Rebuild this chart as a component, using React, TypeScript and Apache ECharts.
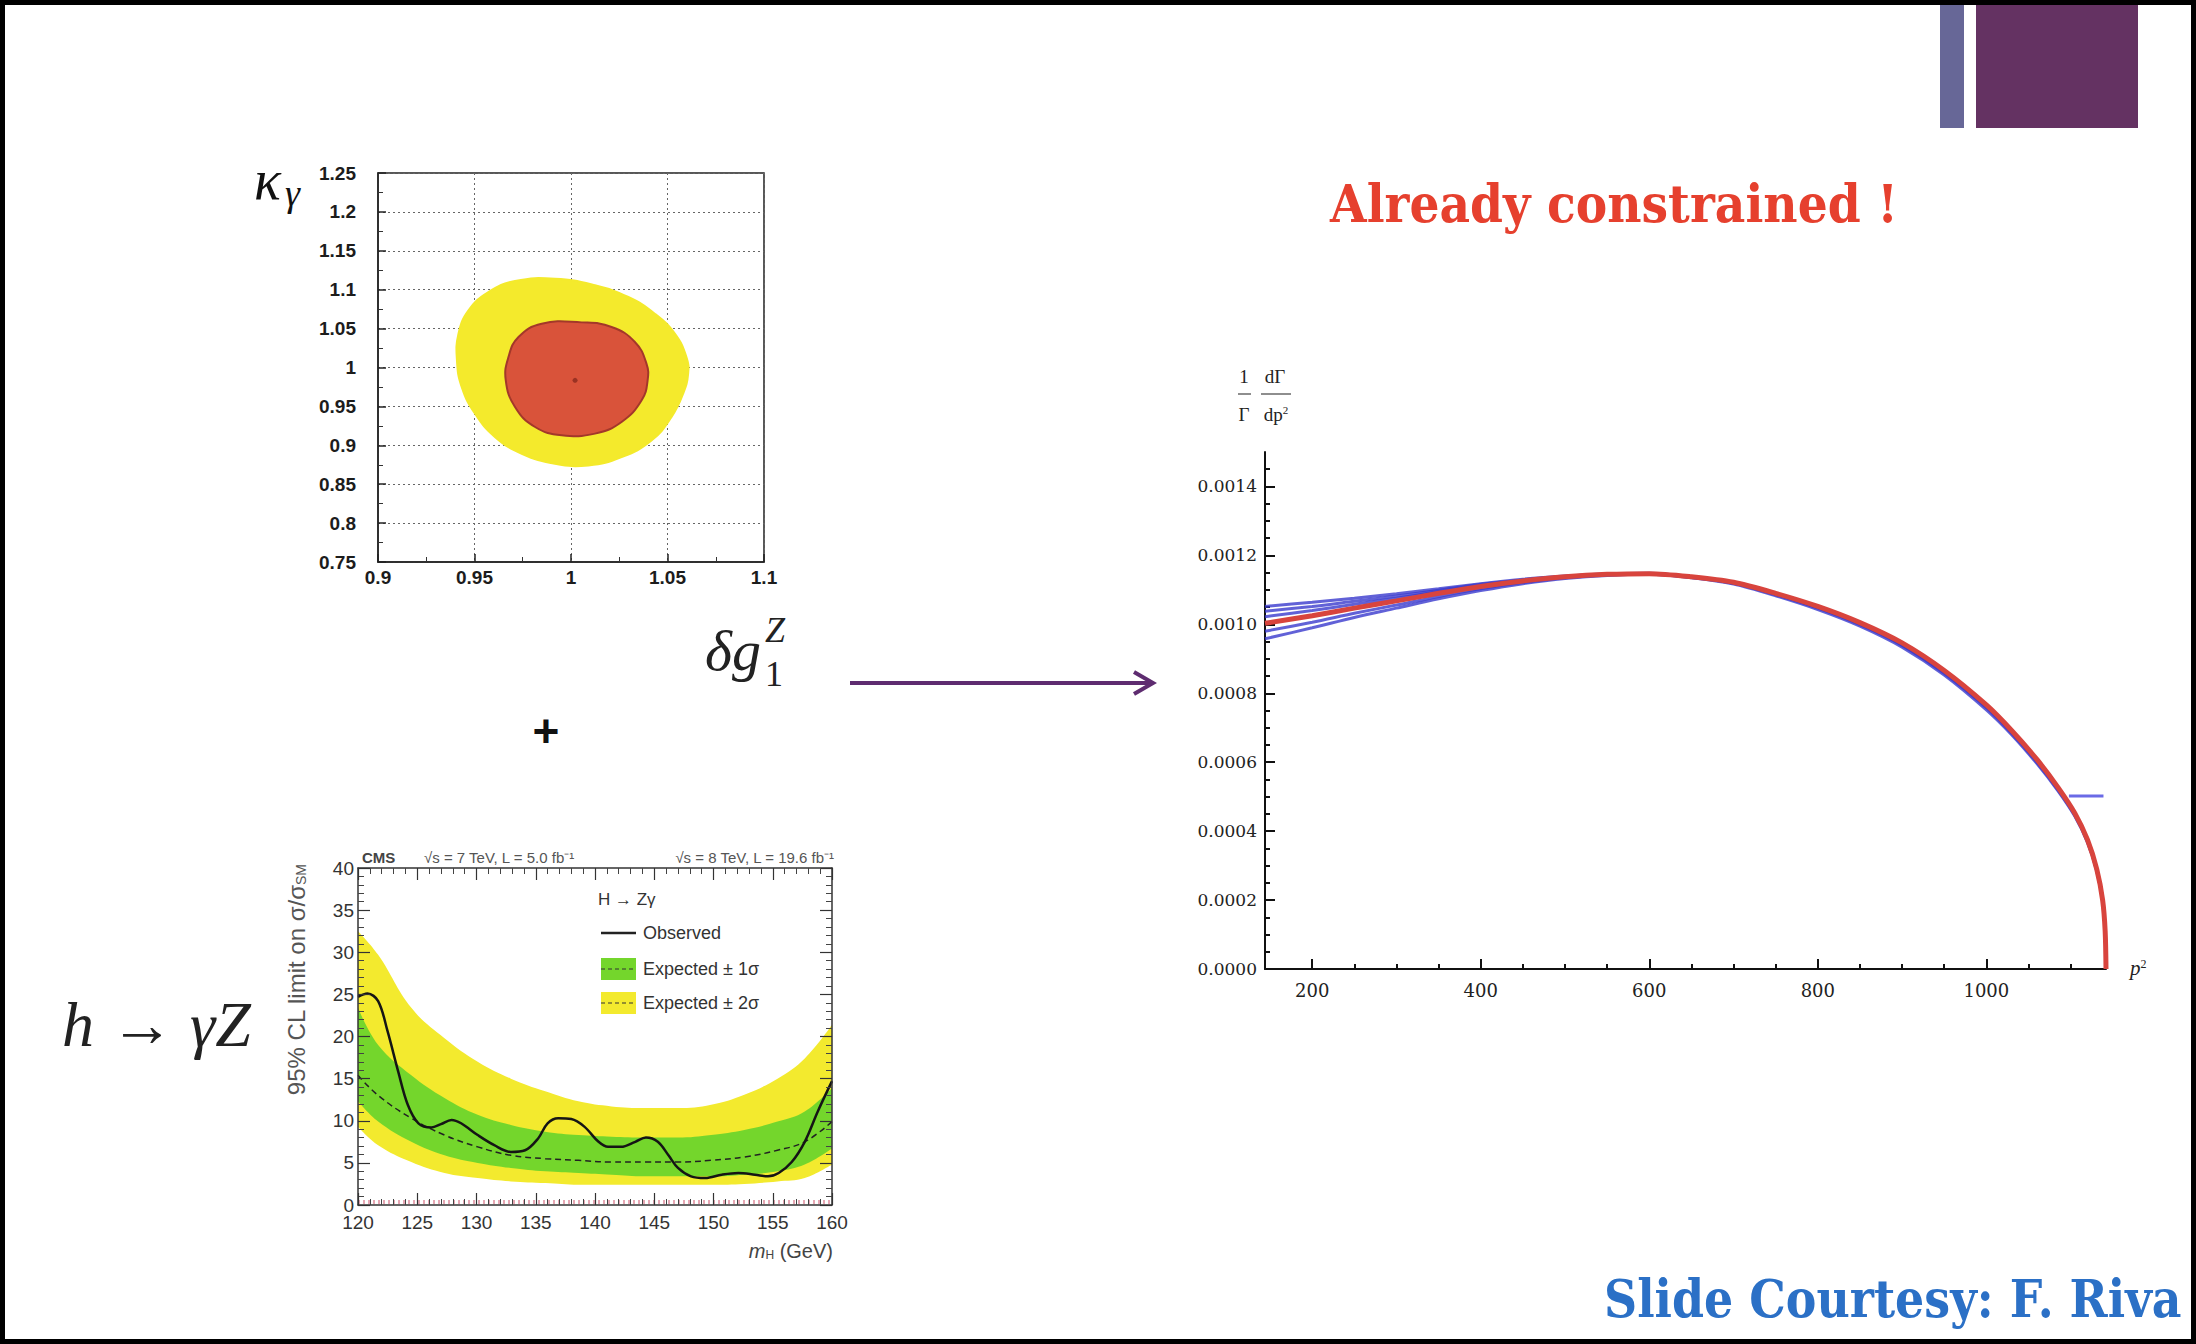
import React, { useEffect, useRef } from "react";
import * as echarts from "echarts";

const W = 2196;
const H = 1344;

// ---------- Panel A: delta g1Z vs kappa-gamma contours ----------
const sigma2X = [0.9917, 1.0124, 1.0297, 1.0434, 1.0538, 1.0598, 1.0607, 1.0581, 1.0521, 1.0417, 1.0262, 1.009, 0.9917, 0.9745, 0.9607, 0.9503, 0.9434, 0.9409, 0.9417, 0.9469, 0.9572, 0.971];
const sigma2Y = [1.1142, 1.1056, 1.0906, 1.0692, 1.0435, 1.0135, 0.9921, 0.9664, 0.9364, 0.9062, 0.8848, 0.8741, 0.8763, 0.8891, 0.9105, 0.9405, 0.9748, 1.0092, 1.0435, 1.0735, 1.097, 1.1112];
const sigma1X = [0.9848, 1.0055, 1.021, 1.0331, 1.0391, 1.0397, 1.0366, 1.0262, 1.0124, 0.9952, 0.9814, 0.971, 0.9662, 0.9676, 0.9728];
const sigma1Y = [1.0563, 1.058, 1.0521, 1.0328, 1.005, 0.9835, 0.9578, 0.93, 0.915, 0.9128, 0.9235, 0.9493, 0.9836, 1.0135, 1.0392];
const bestFit = [1.0021, 0.9835];

// ---------- Panel B: CMS h -> Z gamma limit ----------
const massGrid = [120, 121.7, 124.5, 127.3, 130.1, 132.9, 135.8, 138.6, 141.4, 144.2, 147, 149.8, 152.6, 155.4, 157.7, 160];
const band2Hi = [32.5, 29.7, 23.4, 19.8, 17.0, 15.0, 13.5, 12.3, 11.7, 11.5, 11.5, 11.9, 13.1, 15.0, 17.4, 21.4];
const band1Hi = [23.4, 19.0, 15.4, 12.7, 10.7, 9.5, 8.7, 8.3, 8.1, 8.0, 8.0, 8.3, 8.9, 9.9, 11.1, 13.9];
const band1Lo = [12.3, 9.9, 7.5, 5.9, 5.0, 4.4, 4.0, 3.8, 3.6, 3.4, 3.4, 3.4, 3.6, 4.0, 4.8, 6.7];
const band2Lo = [9.3, 7.1, 5.1, 3.8, 3.2, 2.8, 2.6, 2.4, 2.4, 2.4, 2.4, 2.4, 2.5, 2.8, 3.2, 4.8];
const expectedLimit = [15.4, 13.0, 10.3, 8.3, 6.9, 5.9, 5.5, 5.3, 5.1, 5.1, 5.1, 5.3, 5.7, 6.5, 7.5, 9.9];
const observedMass = [120, 120.8, 121.7, 122.5, 123.4, 124.2, 125.1, 126.2, 127.0, 127.9, 128.7, 130.1, 131.5, 132.9, 134.1, 135.2, 136.0, 136.9, 138.0, 139.1, 140.3, 141.1, 142.2, 143.4, 144.3, 145.3, 146.2, 147.0, 148.1, 149.3, 150.7, 152.1, 153.5, 154.6, 155.5, 156.6, 157.7, 158.8, 160];
const observedLimit = [24.7, 25.1, 24.2, 20.6, 15.8, 11.9, 9.7, 9.2, 9.6, 10.1, 9.7, 8.3, 7.1, 6.3, 6.5, 7.9, 9.7, 10.3, 10.2, 9.3, 7.5, 6.9, 6.9, 7.5, 8.0, 7.5, 5.9, 4.4, 3.4, 3.2, 3.6, 3.8, 3.6, 3.4, 3.8, 5.1, 7.5, 11.1, 14.7];

// ---------- Panel C: 1/Gamma dGamma/dp^2 ----------
const p2Values = [144, 200, 250, 300, 350, 400, 450, 500, 550, 600, 650, 700, 750, 800, 850, 900, 950, 1000, 1030, 1060, 1085, 1105, 1120, 1131, 1138, 1141, 1142];
const redCurve = [0.001003, 0.001025, 0.001047, 0.001068, 0.00109, 0.00111, 0.001126, 0.001138, 0.001145, 0.001147, 0.001138, 0.001122, 0.00109, 0.001052, 0.001005, 0.000946, 0.000866, 0.000766, 0.000692, 0.000608, 0.000527, 0.000452, 0.000375, 0.00029, 0.0002, 0.00011, 0];
const blueCurve1 = [0.000958, 0.00099, 0.00102, 0.001047, 0.001074, 0.001098, 0.001118, 0.001133, 0.001142, 0.001145, 0.001135, 0.001117, 0.001083, 0.001043, 0.000995, 0.000934, 0.000853, 0.000752, 0.00068, 0.000596, 0.000517, 0.000443, 0.000367, 0.000284, 0.000196, 0.000107, 0];
const blueCurve2 = [0.00098, 0.001006, 0.001032, 0.001056, 0.001081, 0.001103, 0.001121, 0.001135, 0.001143, 0.001146, 0.001136, 0.001119, 0.001086, 0.001047, 0.000999, 0.000939, 0.000858, 0.000758, 0.000684, 0.0006, 0.00052, 0.000446, 0.00037, 0.000286, 0.000197, 0.000108, 0];
const blueCurve3 = [0.001022, 0.00104, 0.001058, 0.001076, 0.001095, 0.001113, 0.001128, 0.001139, 0.001145, 0.001147, 0.001137, 0.00112, 0.001088, 0.001049, 0.001002, 0.000942, 0.000862, 0.000762, 0.000688, 0.000604, 0.000524, 0.000449, 0.000372, 0.000288, 0.000198, 0.000109, 0];
const blueCurve4 = [0.001038, 0.001052, 0.001067, 0.001082, 0.001099, 0.001116, 0.001129, 0.001139, 0.001145, 0.001147, 0.001137, 0.00112, 0.001088, 0.001049, 0.001002, 0.000942, 0.000862, 0.000762, 0.000688, 0.000604, 0.000524, 0.000449, 0.000372, 0.000288, 0.000198, 0.000109, 0];
const blueCurve5 = [0.001052, 0.001064, 0.001076, 0.001089, 0.001103, 0.001118, 0.001131, 0.00114, 0.001146, 0.001148, 0.001138, 0.001121, 0.001089, 0.00105, 0.001003, 0.000943, 0.000863, 0.000763, 0.00069, 0.000606, 0.000525, 0.00045, 0.000373, 0.000289, 0.000199, 0.000109, 0];
const blueCurves = [blueCurve1, blueCurve2, blueCurve3, blueCurve4, blueCurve5];
const blueMarkX = [1098, 1139];
const blueMarkY = [0.000502, 0.000502];
const rightXMajor = [200, 400, 600, 800, 1000];
const rightXMinor = [250, 300, 350, 450, 500, 550, 650, 700, 750, 850, 900, 950, 1050, 1100];
const rightYMajor = [0, 0.0002, 0.0004, 0.0006, 0.0008, 0.001, 0.0012, 0.0014];
const rightYMinor = [0.00005, 0.0001, 0.00015, 0.00025, 0.0003, 0.00035, 0.00045, 0.0005, 0.00055, 0.00065, 0.0007, 0.00075, 0.00085, 0.0009, 0.00095, 0.00105, 0.0011, 0.00115, 0.00125, 0.0013, 0.00135, 0.00145];

const SANS = '"Liberation Sans", Arial, sans-serif';
const SERIF = '"Liberation Serif", "Times New Roman", serif';
const DSERIF = '"DejaVu Serif", serif';
const YELLOW = "#f3ea2e";
const GREEN = "#74d62c";

function measure(text: string, font: string): number {
  const ctx = document.createElement("canvas").getContext("2d");
  if (!ctx) return 1;
  ctx.font = font;
  return ctx.measureText(text).width || 1;
}

function fittedText(text: string, x: number, y: number, size: number, target: number, color: string) {
  const w = measure(text, `bold ${size}px "DejaVu Serif"`);
  return {
    type: "text",
    x,
    y,
    scaleX: target / w,
    silent: true,
    style: { text, fontFamily: DSERIF, fontWeight: "bold", fontSize: size, fill: color, align: "left", verticalAlign: "middle" },
  };
}

function polygonSeries(xs: number[], ys: number[], fill: string, stroke: string, z: number) {
  return {
    type: "custom",
    coordinateSystem: "cartesian2d",
    xAxisIndex: 0,
    yAxisIndex: 0,
    data: [[xs[0], ys[0]]],
    clip: true,
    silent: true,
    z,
    renderItem: (_p: any, api: any) => ({
      type: "polygon",
      shape: { points: xs.map((x, i) => api.coord([x, ys[i]])), smooth: 0.45 },
      style: { fill, stroke, lineWidth: 2 },
    }),
  };
}

// filled area from a curve down to the axis; bands are built by layering
function fillSeries(values: number[], color: string, z: number) {
  return {
    type: "line", xAxisIndex: 1, yAxisIndex: 1, silent: true, z,
    data: massGrid.map((m, i) => [m, values[i]]),
    smooth: 0.4, symbol: "none",
    lineStyle: { width: 0, color },
    areaStyle: { color, opacity: 1, origin: "start" },
  };
}

function buildOption(): any {
  const rootAxis = (extra: any) => ({
    type: "value",
    z: 10,
    axisLine: { show: true, onZero: false, lineStyle: { color: "#333", width: 1.5 } },
    axisTick: { show: true, inside: true, length: 12, lineStyle: { color: "#333", width: 1.2 } },
    minorTick: { show: true, splitNumber: 5, length: 6, lineStyle: { color: "#444", width: 1 } },
    splitLine: { show: false },
    ...extra,
  });

  const contourAxis = (extra: any) => ({
    type: "value",
    axisLine: { show: true, onZero: false, lineStyle: { color: "#222", width: 1.5 } },
    axisTick: { show: true, inside: true, length: 8, lineStyle: { color: "#222", width: 1.5 } },
    minorTick: { show: true, splitNumber: 2, length: 5, lineStyle: { color: "#333", width: 1 } },
    splitLine: { show: true, lineStyle: { color: "#666", type: [2, 3], width: 1 } },
    ...extra,
  });

  const mathAxisLine = { show: true, onZero: false, lineStyle: { color: "#111", width: 2 } };

  const xAxis = [
    contourAxis({
      gridIndex: 0, min: 0.9, max: 1.1, interval: 0.05,
      axisLabel: { margin: 6, fontFamily: SANS, fontWeight: "bold", fontSize: 19, color: "#1c1c1c", formatter: (v: number) => String(parseFloat(v.toFixed(2))) },
    }),
    rootAxis({
      gridIndex: 1, position: "bottom", min: 120, max: 160, interval: 5,
      axisLabel: { margin: 8, fontFamily: SANS, fontSize: 19, color: "#333", formatter: (v: number) => String(Math.round(v)) },
    }),
    rootAxis({
      gridIndex: 1, position: "top", min: 120, max: 160, interval: 5,
      axisLabel: { show: false },
    }),
    {
      type: "value", gridIndex: 2, position: "bottom", min: 144, max: 1142,
      axisLine: mathAxisLine,
      axisTick: { show: true, inside: true, length: 10, customValues: rightXMajor, lineStyle: { color: "#111", width: 2 } },
      axisLabel: { customValues: rightXMajor, margin: 12, fontFamily: DSERIF, fontSize: 18, color: "#222", formatter: (v: number) => String(v) },
      splitLine: { show: false },
    },
    {
      type: "value", gridIndex: 2, position: "bottom", min: 144, max: 1142,
      axisLine: { show: false },
      axisTick: { show: true, inside: true, length: 5, customValues: rightXMinor, lineStyle: { color: "#111", width: 2 } },
      axisLabel: { show: false },
      splitLine: { show: false },
    },
  ];

  const yAxis = [
    contourAxis({
      gridIndex: 0, min: 0.75, max: 1.25, interval: 0.05,
      axisLabel: { margin: 22, fontFamily: SANS, fontWeight: "bold", fontSize: 19, color: "#1c1c1c", formatter: (v: number) => String(parseFloat(v.toFixed(2))) },
    }),
    rootAxis({
      gridIndex: 1, position: "left", min: 0, max: 40, interval: 5,
      axisLabel: { margin: 4, fontFamily: SANS, fontSize: 19, color: "#333", formatter: (v: number) => String(Math.round(v)) },
    }),
    rootAxis({
      gridIndex: 1, position: "right", min: 0, max: 40, interval: 5,
      axisLabel: { show: false },
    }),
    {
      type: "value", gridIndex: 2, position: "left", min: 0, max: 0.0015,
      axisLine: mathAxisLine,
      axisTick: { show: true, inside: true, length: 10, customValues: rightYMajor, lineStyle: { color: "#111", width: 2 } },
      axisLabel: { customValues: rightYMajor, margin: 8, fontFamily: DSERIF, fontSize: 17, color: "#222", formatter: (v: number) => v.toFixed(4) },
      splitLine: { show: false },
    },
    {
      type: "value", gridIndex: 2, position: "left", min: 0, max: 0.0015,
      axisLine: { show: false },
      axisTick: { show: true, inside: true, length: 5, customValues: rightYMinor, lineStyle: { color: "#111", width: 2 } },
      axisLabel: { show: false },
      splitLine: { show: false },
    },
  ];

  const series: any[] = [
    polygonSeries(sigma2X, sigma2Y, "#f4ea2c", "#f4ea2c", 3),
    polygonSeries(sigma1X, sigma1Y, "#d9533a", "#a3382a", 4),
    {
      type: "scatter", xAxisIndex: 0, yAxisIndex: 0, silent: true, z: 5,
      data: [bestFit], symbol: "circle", symbolSize: 5, itemStyle: { color: "#8a2a1e" },
    },
    fillSeries(band2Hi, YELLOW, 1),
    fillSeries(band1Hi, GREEN, 2),
    fillSeries(band1Lo, YELLOW, 3),
    fillSeries(band2Lo, "#ffffff", 4),
    {
      type: "line", xAxisIndex: 1, yAxisIndex: 1, silent: true, z: 5,
      data: massGrid.map((m, i) => [m, expectedLimit[i]]),
      smooth: 0.4, symbol: "none", lineStyle: { color: "#222", width: 1.5, type: [6, 4] },
    },
    {
      type: "line", xAxisIndex: 1, yAxisIndex: 1, silent: true, z: 6,
      data: observedMass.map((m, i) => [m, observedLimit[i]]),
      smooth: 0.35, symbol: "none", lineStyle: { color: "#151515", width: 2.5 },
      markLine: {
        silent: true, symbol: "none", label: { show: false },
        lineStyle: { color: "#e6a8b4", type: [2, 3], width: 4 },
        data: [{ yAxis: 0.35 }],
      },
    },
    ...blueCurves.map((c) => ({
      type: "line", xAxisIndex: 3, yAxisIndex: 3, silent: true, z: 3,
      data: p2Values.map((p, i) => [p, c[i]]),
      smooth: 0.3, symbol: "none",
      lineStyle: { color: "rgba(58,58,205,0.8)", width: 3 },
    })),
    {
      type: "line", xAxisIndex: 3, yAxisIndex: 3, silent: true, z: 4,
      data: p2Values.map((p, i) => [p, redCurve[i]]),
      smooth: 0.3, symbol: "none",
      lineStyle: { color: "#d8443d", width: 5 },
    },
    {
      type: "line", xAxisIndex: 3, yAxisIndex: 3, silent: true, z: 3,
      data: blueMarkX.map((p, i) => [p, blueMarkY[i]]),
      symbol: "none", lineStyle: { color: "#6a6ae6", width: 3 },
    },
  ];

  const legendText = (text: string, x: number, y: number) => ({
    type: "text", x, y, silent: true,
    style: { text, fontFamily: SANS, fontSize: 18, fill: "#333", align: "left", verticalAlign: "middle" },
  });

  const graphic: any[] = [
    // slide frame and corner decoration
    { type: "rect", silent: true, z: 100, shape: { x: 2.5, y: 2.5, width: W - 5, height: H - 5 }, style: { fill: "none", stroke: "#000", lineWidth: 5 } },
    { type: "rect", silent: true, shape: { x: 1940, y: 0, width: 24, height: 128 }, style: { fill: "#676797" } },
    { type: "rect", silent: true, shape: { x: 1976, y: 0, width: 162, height: 128 }, style: { fill: "#643262" } },

    fittedText("Already constrained !", 1330, 204, 53, 568, "#e6402e"),
    fittedText("Slide Courtesy: F. Riva", 1604, 1298, 53, 578, "#2b70c6"),

    // panel A axis names
    { type: "text", x: 254, y: 180, silent: true, style: { text: "κ", fontFamily: SERIF, fontStyle: "italic", fontSize: 56, fill: "#111", verticalAlign: "middle" } },
    { type: "text", x: 285, y: 193, silent: true, style: { text: "γ", fontFamily: SERIF, fontStyle: "italic", fontSize: 38, fill: "#111", verticalAlign: "middle" } },
    { type: "text", x: 705, y: 650, silent: true, style: { text: "δg", fontFamily: SERIF, fontStyle: "italic", fontSize: 58, fill: "#222", verticalAlign: "middle" } },
    { type: "text", x: 765, y: 674, silent: true, style: { text: "1", fontFamily: SERIF, fontSize: 36, fill: "#222", verticalAlign: "middle" } },
    { type: "text", x: 765, y: 630, silent: true, style: { text: "Z", fontFamily: SERIF, fontStyle: "italic", fontSize: 36, fill: "#222", verticalAlign: "middle" } },

    // arrow
    { type: "line", silent: true, shape: { x1: 850, y1: 683, x2: 1151, y2: 683 }, style: { stroke: "#5e2c70", lineWidth: 4 } },
    { type: "polyline", silent: true, shape: { points: [[1134, 672], [1153, 683], [1134, 694]] }, style: { stroke: "#5e2c70", lineWidth: 4, fill: "none" } },

    // plus sign
    { type: "text", x: 546, y: 731, silent: true, style: { text: "+", fontFamily: SANS, fontWeight: "bold", fontSize: 46, fill: "#111", align: "center", verticalAlign: "middle" } },

    // h -> gamma Z
    { type: "text", x: 62, y: 1024, silent: true, style: { text: "h → γZ", fontFamily: SERIF, fontStyle: "italic", fontSize: 64, fill: "#222", verticalAlign: "middle" } },

    // panel B header
    { type: "text", x: 362, y: 857, silent: true, style: { text: "CMS", fontFamily: SANS, fontWeight: "bold", fontSize: 15, fill: "#444", verticalAlign: "middle" } },
    { type: "text", x: 424, y: 857, silent: true, style: { text: "√s = 7 TeV, L = 5.0 fb⁻¹", fontFamily: SANS, fontSize: 15, fill: "#555", verticalAlign: "middle" } },
    { type: "text", x: 834, y: 857, silent: true, style: { text: "√s = 8 TeV, L = 19.6 fb⁻¹", fontFamily: SANS, fontSize: 15, fill: "#555", align: "right", verticalAlign: "middle" } },

    // panel B legend
    { type: "text", x: 598, y: 899, silent: true, style: { text: "H → Zγ", fontFamily: SANS, fontSize: 17, fill: "#333", verticalAlign: "middle" } },
    { type: "line", silent: true, shape: { x1: 601, y1: 933, x2: 636, y2: 933 }, style: { stroke: "#222", lineWidth: 2.5 } },
    legendText("Observed", 643, 933),
    { type: "rect", silent: true, shape: { x: 601, y: 958, width: 35, height: 22 }, style: { fill: GREEN } },
    { type: "line", silent: true, shape: { x1: 601, y1: 969, x2: 636, y2: 969 }, style: { stroke: "#333", lineWidth: 1.2, lineDash: [4, 3] } },
    legendText("Expected ± 1σ", 643, 969),
    { type: "rect", silent: true, shape: { x: 601, y: 992, width: 35, height: 22 }, style: { fill: YELLOW } },
    { type: "line", silent: true, shape: { x1: 601, y1: 1003, x2: 636, y2: 1003 }, style: { stroke: "#333", lineWidth: 1.2, lineDash: [4, 3] } },
    legendText("Expected ± 2σ", 643, 1003),

    // panel B axis titles
    {
      type: "text", x: 296, y: 864, rotation: Math.PI / 2, silent: true,
      style: {
        text: "95% CL limit on σ/σ{s|SM}", fontFamily: SANS, fontSize: 24, fill: "#555", align: "right", verticalAlign: "middle",
        rich: { s: { fontFamily: SANS, fontSize: 14, fill: "#555", verticalAlign: "bottom" } },
      },
    },
    {
      type: "text", x: 833, y: 1251, silent: true,
      style: {
        text: "{m|m}{s|H} (GeV)", fontFamily: SANS, fontSize: 20, fill: "#444", align: "right", verticalAlign: "middle",
        rich: {
          m: { fontFamily: SANS, fontStyle: "italic", fontSize: 20, fill: "#444" },
          s: { fontFamily: SANS, fontSize: 12, fill: "#444", verticalAlign: "bottom" },
        },
      },
    },

    // panel C axis titles
    { type: "text", x: 1244, y: 376, silent: true, style: { text: "1", fontFamily: SERIF, fontSize: 19, fill: "#222", align: "center", verticalAlign: "middle" } },
    { type: "text", x: 1275, y: 376, silent: true, style: { text: "dΓ", fontFamily: SERIF, fontSize: 19, fill: "#222", align: "center", verticalAlign: "middle" } },
    { type: "line", silent: true, shape: { x1: 1238, y1: 394, x2: 1251, y2: 394 }, style: { stroke: "#444", lineWidth: 1.2 } },
    { type: "line", silent: true, shape: { x1: 1261, y1: 394, x2: 1291, y2: 394 }, style: { stroke: "#444", lineWidth: 1.2 } },
    { type: "text", x: 1244, y: 414, silent: true, style: { text: "Γ", fontFamily: SERIF, fontSize: 19, fill: "#222", align: "center", verticalAlign: "middle" } },
    {
      type: "text", x: 1276, y: 414, silent: true,
      style: {
        text: "dp{s|2}", fontFamily: SERIF, fontSize: 19, fill: "#222", align: "center", verticalAlign: "middle",
        rich: { s: { fontFamily: SERIF, fontSize: 11, fill: "#222", verticalAlign: "top" } },
      },
    },
    {
      type: "text", x: 2130, y: 968, silent: true,
      style: {
        text: "{p|p}{s|2}", fontFamily: SERIF, fontSize: 21, fill: "#222", verticalAlign: "middle",
        rich: {
          p: { fontFamily: SERIF, fontStyle: "italic", fontSize: 21, fill: "#222" },
          s: { fontFamily: SERIF, fontSize: 12, fill: "#222", verticalAlign: "top" },
        },
      },
    },
  ];

  return {
    animation: false,
    backgroundColor: "#ffffff",
    grid: [
      { left: 378, top: 173, width: 386, height: 389, show: true, borderColor: "#222", borderWidth: 1.5, backgroundColor: "transparent" },
      { left: 358, top: 868, width: 474, height: 337, show: false },
      { left: 1265, top: 452, width: 841, height: 517, show: false },
    ],
    xAxis,
    yAxis,
    series,
    graphic,
  };
}

export default function App() {
  const ref = useRef<HTMLDivElement>(null);
  useEffect(() => {
    if (!ref.current) return;
    const chart = echarts.init(ref.current, null, { renderer: "svg" });
    chart.setOption(buildOption());
    return () => chart.dispose();
  }, []);
  return (
    <div
      ref={ref}
      style={{ position: "fixed", left: 0, top: 0, width: W, height: H, background: "#fff" }}
    />
  );
}
